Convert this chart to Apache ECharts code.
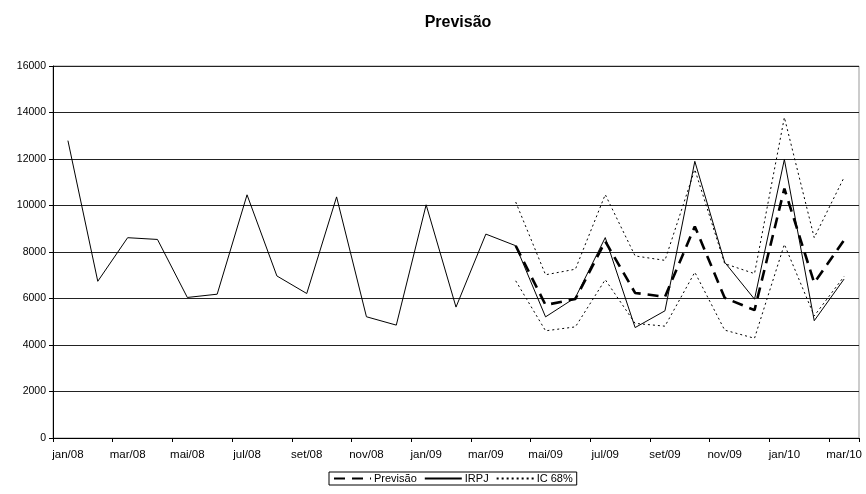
<!DOCTYPE html>
<html>
<head>
<meta charset="utf-8">
<script src="https://cdn.jsdelivr.net/npm/echarts@6/dist/echarts.min.js"></script>
<style>
  html, body { margin: 0; padding: 0; background: #fff; }
  #chart { width: 866px; height: 494px; }
</style>
</head>
<body>
<div id="chart"></div>
<script>
// Monthly periods, jan/08 .. mar/10
const months = ['jan/08','fev/08','mar/08','abr/08','mai/08','jun/08','jul/08','ago/08','set/08','out/08','nov/08','dez/08',
                'jan/09','fev/09','mar/09','abr/09','mai/09','jun/09','jul/09','ago/09','set/09','out/09','nov/09','dez/09',
                'jan/10','fev/10','mar/10'];

// Observed IRPJ
const irpj = [12790, 6740, 8615, 8540, 6045, 6185, 10460, 6970, 6215, 10370, 5215, 4855,
              10030, 5630, 8770, 8270, 5210, 6040, 8620, 4750, 5470, 11900, 7560, 5970,
              11980, 5045, 6835];

// Forecast (starts at abr/09)
const previsao = [null, null, null, null, null, null, null, null, null, null, null, null,
                  null, null, null, 8270, 5720, 5980, 8460, 6240, 6070, 9100, 6030, 5500,
                  10730, 6670, 8510];

// 68% interval bounds
const icSup = [null, null, null, null, null, null, null, null, null, null, null, null,
               null, null, null, 10150, 7020, 7260, 10470, 7830, 7640, 11550, 7500, 7070,
               13790, 8615, 11210];
const icInf = [null, null, null, null, null, null, null, null, null, null, null, null,
               null, null, null, 6760, 4610, 4780, 6810, 4930, 4810, 7130, 4640, 4290,
               8330, 5250, 6950];

const font = 'Liberation Sans, Arial, sans-serif';

const chart = echarts.init(document.getElementById('chart'), null, { renderer: 'canvas' });
chart.setOption({
  animation: false,
  backgroundColor: '#fff',
  title: {
    text: 'Previsão',
    left: 453,
    top: 10,
    textAlign: 'center',
    textStyle: { fontFamily: font, fontSize: 16, fontWeight: 'bold', color: '#000' }
  },
  legend: {
    left: 329,
    top: 472,
    data: ['Previsão', 'IRPJ', 'IC 68%'],
    borderColor: '#000',
    borderWidth: 1,
    borderRadius: 0,
    padding: [1, 4, 1, 4],
    itemGap: 7,
    itemWidth: 37,
    itemHeight: 12,
    itemStyle: { color: 'transparent', borderWidth: 0, opacity: 0 },
    textStyle: { fontFamily: font, fontSize: 11, color: '#000', padding: [0, 0, 0, -2] }
  },
  grid: {
    left: 53,
    right: 7,
    top: 66,
    bottom: 56,
    show: true,
    borderColor: '#999',
    borderWidth: 1
  },
  xAxis: {
    type: 'category',
    data: months,
    boundaryGap: true,
    axisLine: { lineStyle: { color: '#000', width: 1 } },
    axisTick: { show: true, interval: 1, length: 4, lineStyle: { color: '#000' } },
    axisLabel: { interval: 1, fontFamily: font, fontSize: 11.5, color: '#000', margin: 11 },
    splitLine: { show: false }
  },
  yAxis: {
    type: 'value',
    min: 0,
    max: 16000,
    interval: 2000,
    axisLine: { show: true, lineStyle: { color: '#000', width: 1 } },
    axisTick: { show: true, length: 4, lineStyle: { color: '#000' } },
    axisLabel: { fontFamily: font, fontSize: 10.5, color: '#000', margin: 7,
                 formatter: v => String(v) },
    splitLine: { show: true, lineStyle: { color: '#222', width: 1 } }
  },
  series: [
    {
      name: 'Previsão', type: 'line', data: previsao,
      showSymbol: false, symbol: 'none', connectNulls: false, z: 4,
      lineStyle: { color: '#000', width: 2.6, type: [11, 7] },
      itemStyle: { color: '#000' }
    },
    {
      name: 'IRPJ', type: 'line', data: irpj,
      showSymbol: false, symbol: 'none', z: 3,
      lineStyle: { color: '#000', width: 1, type: 'solid' },
      itemStyle: { color: '#000' }
    },
    {
      name: 'IC 68%', type: 'line', data: icSup,
      showSymbol: false, symbol: 'none', z: 2,
      lineStyle: { color: '#000', width: 1, type: [2, 3] },
      itemStyle: { color: '#000' }
    },
    {
      name: 'IC 68%', type: 'line', data: icInf,
      showSymbol: false, symbol: 'none', z: 2,
      lineStyle: { color: '#000', width: 1, type: [2, 3] },
      itemStyle: { color: '#000' }
    }
  ]
});
</script>
</body>
</html>
